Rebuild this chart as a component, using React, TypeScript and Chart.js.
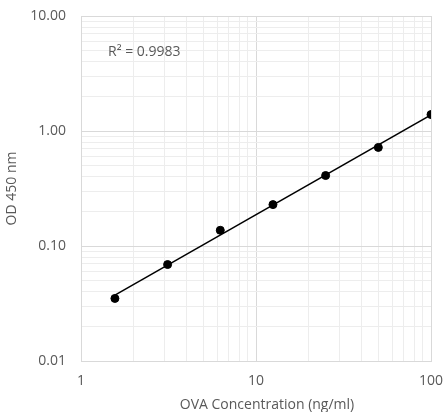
import React, { useEffect, useRef } from "react";
import { Chart, registerables } from "chart.js";

Chart.register(...registerables);

const X_VALUES = [1.5625, 3.125, 6.25, 12.5, 25, 50, 100];
const OD_VALUES = [0.035, 0.069, 0.137, 0.229, 0.41, 0.72, 1.39];
const X_LABELS = [1, 10, 100];
const Y_LABELS = [0.01, 0.1, 1, 10];
const R2_LABEL = "R² = 0.9983";
const X_TITLE = "OVA Concentration (ng/ml)";
const Y_TITLE = "OD 450 nm";

const FONT = "'Open Sans', 'Liberation Sans', sans-serif";
const TEXT = "#595959";
const FS = 14;

function logTicks(min: number, max: number) {
  const out: { value: number }[] = [];
  for (let e = Math.round(Math.log10(min)); e < Math.round(Math.log10(max)); e++) {
    for (let m = 1; m <= 9; m++) out.push({ value: +(m * Math.pow(10, e)).toPrecision(6) });
  }
  out.push({ value: max });
  return out;
}

function isMajor(v: number) {
  const l = Math.log10(v);
  return Math.abs(l - Math.round(l)) < 1e-6;
}

function powerFit(xs: number[], ys: number[]) {
  const lx = xs.map(Math.log10);
  const ly = ys.map(Math.log10);
  const n = xs.length;
  const mx = lx.reduce((a, b) => a + b, 0) / n;
  const my = ly.reduce((a, b) => a + b, 0) / n;
  let sxy = 0, sxx = 0;
  for (let i = 0; i < n; i++) {
    sxy += (lx[i] - mx) * (ly[i] - my);
    sxx += (lx[i] - mx) * (lx[i] - mx);
  }
  const b = sxy / sxx;
  const a = my - b * mx;
  return (x: number) => Math.pow(10, a + b * Math.log10(x));
}

const textPlugin = {
  id: "extraText",
  afterDatasetsDraw(chart: any) {
    const { ctx } = chart;
    const xs = chart.scales.x;
    const ys = chart.scales.y;
    ctx.save();
    ctx.font = `${FS}px ${FONT}`;
    ctx.fillStyle = TEXT;
    ctx.textBaseline = "middle";
    ctx.textAlign = "left";
    ctx.fillText(R2_LABEL, xs.left + 27, ys.top + 36);
    ctx.textAlign = "center";
    ctx.fillText(X_TITLE, (xs.left + xs.right) / 2 + 11, xs.bottom - 7);
    ctx.restore();
  },
};

export default function App() {
  const ref = useRef<HTMLCanvasElement>(null);
  useEffect(() => {
    if (!ref.current) return;
    const fit = powerFit(X_VALUES, OD_VALUES);
    const xMin = X_VALUES[0];
    const xMax = X_VALUES[X_VALUES.length - 1];
    const gridColor = (c: any) =>
      c.tick && isMajor(c.tick.value) ? "#d9d9d9" : "#ededed";
    const chart = new Chart(ref.current, {
      type: "scatter",
      data: {
        datasets: [
          {
            type: "line",
            data: [
              { x: xMin, y: fit(xMin) },
              { x: xMax, y: fit(xMax) },
            ],
            borderColor: "#000000",
            borderWidth: 1.5,
            pointRadius: 0,
            fill: false,
          } as any,
          {
            data: X_VALUES.map((x, i) => ({ x, y: OD_VALUES[i] })),
            backgroundColor: "#000000",
            borderColor: "#000000",
            pointRadius: 4,
          },
        ],
      },
      plugins: [textPlugin],
      options: {
        animation: false,
        responsive: false,
        devicePixelRatio: 1,
        layout: { padding: { top: 16, right: 12, left: 0, bottom: 0 } },
        plugins: { legend: { display: false }, tooltip: { enabled: false } },
        scales: {
          x: {
            type: "logarithmic",
            min: 1,
            max: 100,
            afterBuildTicks: (s: any) => {
              s.ticks = logTicks(1, 100);
            },
            afterFit: (s: any) => {
              s.height = 51;
              s.paddingLeft = 0;
              s.paddingRight = 0;
            },
            ticks: {
              autoSkip: false,
              maxRotation: 0,
              padding: 12,
              color: TEXT,
              font: { family: FONT, size: FS },
              callback: (v: any) => (X_LABELS.includes(Number(v)) ? String(v) : ""),
            },
            grid: { color: gridColor, drawTicks: false, lineWidth: 1 },
            border: { color: "#d9d9d9" },
            title: { display: false },
          },
          y: {
            type: "logarithmic",
            min: 0.01,
            max: 10,
            afterBuildTicks: (s: any) => {
              s.ticks = logTicks(0.01, 10);
            },
            afterFit: (s: any) => {
              s.width = 81;
              s.paddingTop = 0;
              s.paddingBottom = 0;
            },
            ticks: {
              autoSkip: false,
              padding: 15,
              color: TEXT,
              font: { family: FONT, size: FS },
              callback: (v: any) => {
                const n = Number(v);
                return Y_LABELS.some((l) => Math.abs(l - n) < 1e-9) ? n.toFixed(2) : "";
              },
            },
            grid: { color: gridColor, drawTicks: false, lineWidth: 1 },
            border: { color: "#d9d9d9" },
            title: {
              display: true,
              text: Y_TITLE,
              color: TEXT,
              font: { family: FONT, size: FS },
              padding: { top: 4, bottom: 0 },
            },
          },
        },
      },
    });
    return () => chart.destroy();
  }, []);
  return (
    <div style={{ position: "fixed", left: 0, top: 0, width: 443, height: 412, background: "#fff" }}>
      <canvas ref={ref} width={443} height={412} style={{ width: 443, height: 412 }} />
    </div>
  );
}
